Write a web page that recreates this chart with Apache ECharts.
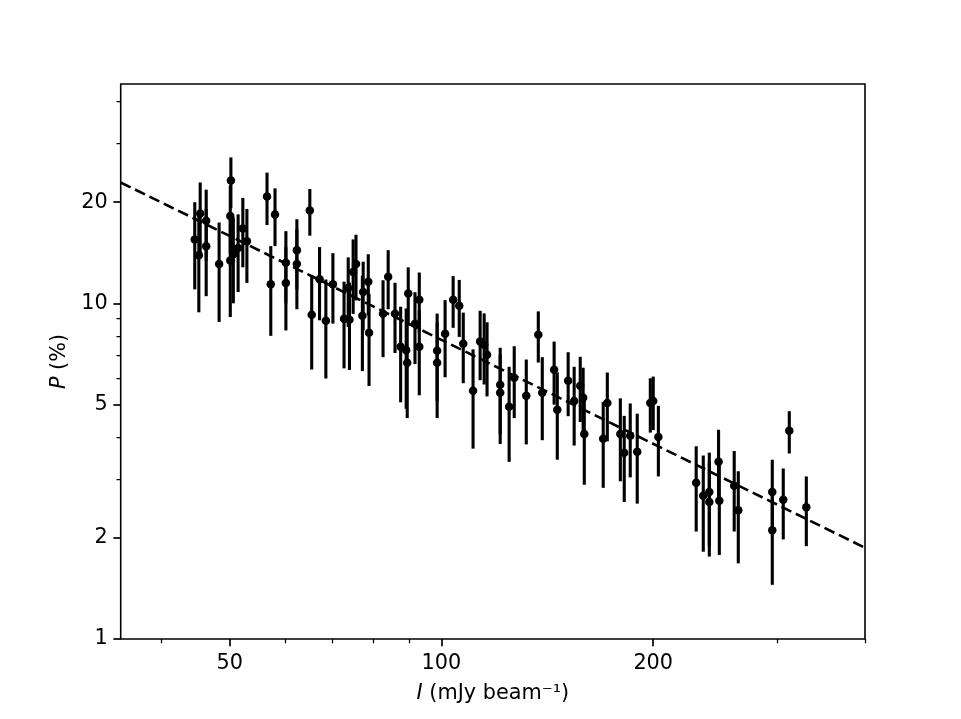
<!DOCTYPE html>
<html>
<head>
<meta charset="utf-8">
<script src="https://cdn.jsdelivr.net/npm/echarts@6/dist/echarts.min.js"></script>
<style>
  html, body { margin: 0; padding: 0; background: #fff; }
  #chart { width: 961px; height: 719px; }
</style>
</head>
<body>
<div id="chart"></div>
<script>
// I in mJy/beam, P in %, symmetric 1-sigma error on P
const intensity = [
  44.6, 45.4, 45.2, 46.3, 46.3, 48.3, 50.2, 50.1, 50.1, 50.6,
  51.4, 52.2, 52.9, 56.5, 58.0, 57.2, 60.1, 60.1, 62.3, 62.3,
  65.0, 65.4, 67.1, 68.5, 70.1, 72.7, 74.0, 74.9, 75.6, 73.7,
  77.4, 77.2, 78.7, 78.9, 84.0, 82.6, 85.9, 89.7, 93.0, 91.7,
  87.5, 89.1, 89.4, 93.0, 98.6, 98.6, 101.2, 103.9, 106.0, 107.4,
  110.9, 113.5, 115.0, 116.1, 121.2, 121.2, 124.8, 126.9, 132.0, 137.3,
  139.1, 144.6, 146.1, 151.4, 154.4, 157.5, 159.0, 159.6, 169.8, 172.1,
  179.6, 181.9, 185.5, 189.8, 198.1, 200.0, 203.4, 230.2, 235.6, 240.3,
  240.3, 247.7, 248.3, 260.7, 264.2, 295.3, 295.3, 306.1, 312.2, 330.1
]
const polFrac = [
  15.5, 18.5, 13.9, 17.6, 14.8, 13.1, 23.2, 18.2, 13.4, 14.0,
  14.6, 16.7, 15.3, 20.8, 18.4, 11.4, 13.2, 11.5, 14.4, 13.1,
  18.9, 9.25, 11.8, 8.87, 11.4, 9.0, 8.93, 12.4, 13.1, 11.1,
  10.8, 9.18, 11.6, 8.17, 12.0, 9.31, 9.31, 10.7, 10.25, 8.69,
  7.42, 7.25, 6.65, 7.42, 7.22, 6.65, 8.12, 10.25, 9.84, 7.58,
  5.49, 7.70, 7.53, 7.03, 5.72, 5.41, 4.92, 6.0, 5.30, 8.06,
  5.41, 6.34, 4.82, 5.88, 5.12, 5.68, 5.23, 4.08, 3.95, 5.05,
  4.08, 3.59, 4.03, 3.61, 5.05, 5.12, 4.00, 2.92, 2.67, 2.74,
  2.56, 3.37, 2.58, 2.86, 2.42, 2.74, 2.11, 2.60, 4.17, 2.47
]
const polErr = [
  4.5, 4.4, 4.5, 4.2, 4.3, 4.3, 4.0, 4.2, 4.3, 4.0,
  3.8, 3.9, 3.8, 3.7, 3.6, 3.4, 3.2, 3.2, 3.4, 3.5,
  3.0, 2.9, 2.9, 2.9, 2.7, 2.6, 2.6, 3.1, 2.9, 2.6,
  2.5, 2.9, 2.4, 2.5, 2.4, 2.4, 2.2, 2.1, 2.1, 2.1,
  2.35, 2.4, 2.1, 2.1, 2.1, 2.1, 2.1, 1.8, 1.9, 1.8,
  1.8, 1.8, 1.8, 1.75, 1.65, 1.6, 1.55, 1.45, 1.5, 1.4,
  1.5, 1.35, 1.4, 1.27, 1.35, 1.25, 1.2, 1.2, 1.13, 1.17,
  1.13, 1.03, 1.0, 1.08, 0.93, 0.93, 0.95, 0.83, 0.85, 0.85,
  0.8, 0.83, 0.8, 0.77, 0.74, 0.68, 0.66, 0.62, 0.6, 0.58
]
// power-law fit, end points at the axis limits
const fitLine = [[35, 22.9], [400, 1.87]]

const xMajorTicks = [50, 100, 200]
const xMinorTicks = [40, 60, 70, 80, 90, 300, 400]
const yMajorTicks = [1, 2, 5, 10, 20]
const yMinorTicks = [3, 4, 6, 7, 8, 9, 30, 40]

const FONT = 'DejaVu Sans'
const points = intensity.map((v, i) => [v, polFrac[i], polErr[i]])

const chart = echarts.init(document.getElementById('chart'), null, { renderer: 'canvas' })

const baseAxis = {
  type: 'log',
  logBase: 10,
  splitLine: { show: false },
  axisLine: { show: false },
}

chart.setOption({
  animation: false,
  backgroundColor: '#fff',
  textStyle: { fontFamily: FONT, color: '#000' },
  grid: {
    left: 120.7, right: 96, top: 84, bottom: 80,
    containLabel: false,
    outerBoundsMode: 'none',
    show: true,
    borderColor: '#000',
    borderWidth: 1.6,
    backgroundColor: 'transparent',
  },
  xAxis: [
    {
      ...baseAxis,
      position: 'bottom',
      min: 35, max: 400,
      name: '{i|I} (mJy beam\u207B\u00B9)',
      nameLocation: 'middle',
      nameGap: 44,
      nameTextStyle: {
        fontFamily: FONT, fontSize: 20.8, color: '#000',
        rich: {
          i: { fontFamily: FONT, fontSize: 20.8, fontStyle: 'italic', color: '#000' },
        },
      },
      axisTick: { show: true, inside: false, length: 7.3, lineStyle: { color: '#000', width: 1.7 }, customValues: xMajorTicks },
      axisLabel: {
        customValues: xMajorTicks, margin: 14, fontFamily: FONT, fontSize: 20.8, color: '#000',
        formatter: (v) => String(Math.round(v)),
      },
    },
    {
      ...baseAxis,
      position: 'bottom',
      min: 35, max: 400,
      axisTick: { show: true, inside: false, length: 4.2, lineStyle: { color: '#000', width: 1.25 }, customValues: xMinorTicks },
      axisLabel: { show: false },
    },
  ],
  yAxis: [
    {
      ...baseAxis,
      position: 'left',
      min: 1, max: 45,
      name: '{i|P} (%)',
      nameLocation: 'middle',
      nameGap: 49,
      nameRotate: 90,
      nameTextStyle: {
        fontFamily: FONT, fontSize: 20.8, color: '#000',
        rich: {
          i: { fontFamily: FONT, fontSize: 20.8, fontStyle: 'italic', color: '#000' },
        },
      },
      axisTick: { show: true, inside: false, length: 7.3, lineStyle: { color: '#000', width: 1.7 }, customValues: yMajorTicks },
      axisLabel: {
        customValues: yMajorTicks, margin: 13, fontFamily: FONT, fontSize: 20.8, color: '#000',
        formatter: (v) => String(Math.round(v)),
      },
    },
    {
      ...baseAxis,
      position: 'left',
      min: 1, max: 45,
      axisTick: { show: true, inside: false, length: 4.2, lineStyle: { color: '#000', width: 1.25 }, customValues: yMinorTicks },
      axisLabel: { show: false },
    },
  ],
  series: [
    {
      type: 'custom',
      name: 'errors',
      xAxisIndex: 0,
      yAxisIndex: 0,
      data: points,
      encode: { x: 0, y: 1 },
      z: 2,
      renderItem: (params, api) => {
        const x = api.value(0)
        const y = api.value(1)
        const e = api.value(2)
        const lo = api.coord([x, y - e])
        const hi = api.coord([x, y + e])
        return {
          type: 'line',
          shape: { x1: lo[0], y1: lo[1], x2: hi[0], y2: hi[1] },
          style: { stroke: '#000', lineWidth: 3.1 },
        }
      },
    },
    {
      type: 'scatter',
      name: 'data',
      xAxisIndex: 0,
      yAxisIndex: 0,
      data: points.map((p) => [p[0], p[1]]),
      symbol: 'circle',
      symbolSize: 8.5,
      itemStyle: { color: '#000', opacity: 1 },
      z: 3,
    },
    {
      type: 'line',
      name: 'fit',
      xAxisIndex: 0,
      yAxisIndex: 0,
      data: fitLine,
      showSymbol: false,
      symbol: 'none',
      lineStyle: { color: '#000', width: 2.6, type: [11, 5] },
      z: 4,
    },
  ],
})
</script>
</body>
</html>
